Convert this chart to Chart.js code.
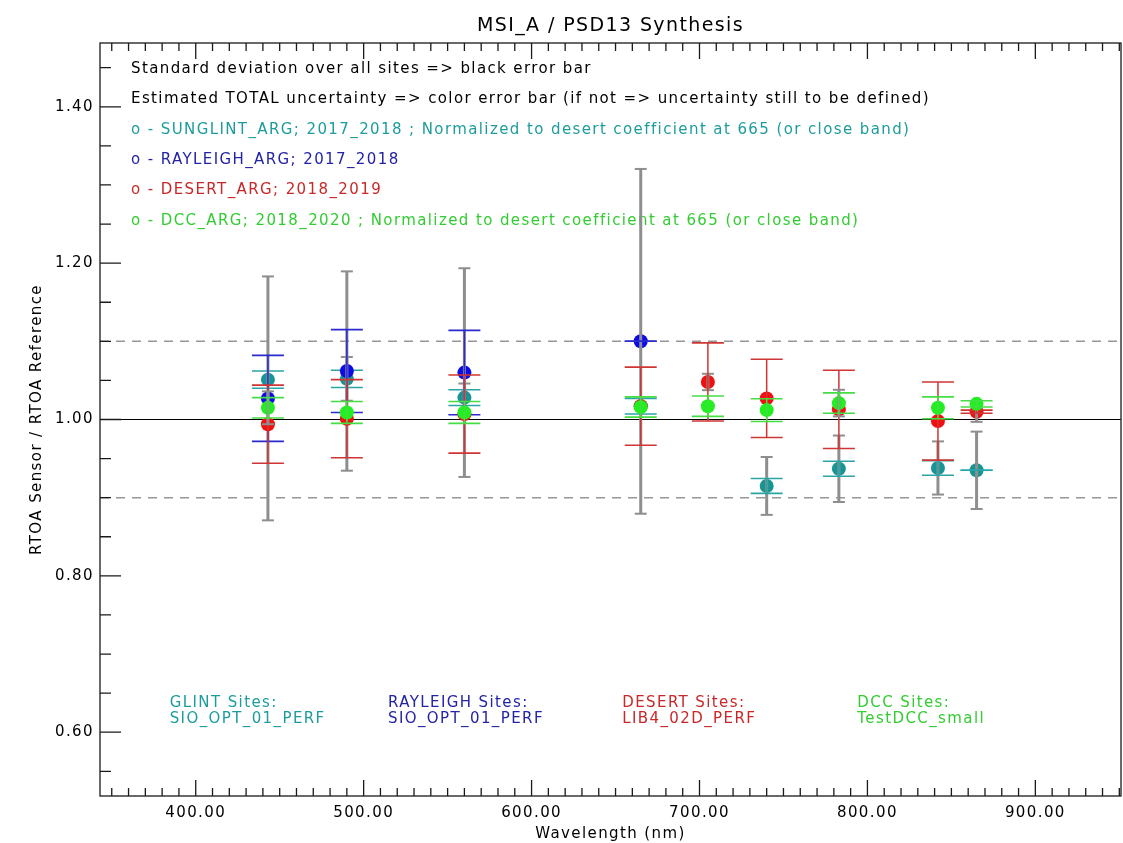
<!DOCTYPE html>
<html><head><meta charset="utf-8">
<script src="https://cdn.jsdelivr.net/npm/chart.js@4.4.1/dist/chart.umd.min.js"></script>
<style>html,body{margin:0;padding:0;background:#fff;}canvas{display:block;}</style>
</head><body>
<canvas id="c" width="1123" height="843"></canvas>
<script>
// ---------- data ----------
const wavelengths = [443, 490, 560, 665, 705, 740, 783, 842, 865];

const glintValues      = [1.051, 1.052, 1.028, 1.017, null, 0.915, 0.937, 0.938, 0.935];
const glintUncertainty = [0.011, 0.011, 0.010, 0.010, null, 0.0095, 0.0095, 0.0094, 0.0];
const glintStd         = [null, 0.028, 0.018, null, null, 0.037, 0.0425, 0.034, 0.0495];

const rayleighValues      = [1.027, 1.062, 1.060, 1.100, null, null, null, null, null];
const rayleighUncertainty = [0.055, 0.053, 0.054, 0.0, null, null, null, null, null];
const rayleighStd         = [0.156, 0.1275, 0.1335, 0.2205, null, null, null, null, null];

const desertValues      = [0.994, 1.001, 1.007, 1.017, 1.048, 1.027, 1.013, 0.998, 1.010];
const desertUncertainty = [0.050, 0.050, 0.050, 0.050, 0.050, 0.050, 0.050, 0.050, 0.002];
const desertStd         = [null, null, null, null, 0.0105, null, null, null, 0.013];

const dccValues      = [1.015, 1.009, 1.009, 1.016, 1.017, 1.012, 1.021, 1.015, 1.020];
const dccUncertainty = [0.013, 0.014, 0.014, 0.013, 0.013, 0.0145, 0.013, 0.014, 0.004];
const dccStd         = [0.021, null, null, null, null, null, 0.017, null, null];

const referenceLevel = [1.0];
const toleranceLevels = [1.1, 0.9];

const xTickValues = [400, 500, 600, 700, 800, 900];
const yTickValues = [0.6, 0.8, 1.0, 1.2, 1.4];

const titleText = 'MSI_A / PSD13 Synthesis';
const xTitle = 'Wavelength (nm)';
const yTitle = 'RTOA Sensor / RTOA Reference';
const legendLines = [
  'Standard deviation over all sites => black error bar',
  'Estimated TOTAL uncertainty => color error bar (if not => uncertainty still to be defined)',
  'o - SUNGLINT_ARG; 2017_2018 ; Normalized to desert coefficient at 665 (or close band)',
  'o - RAYLEIGH_ARG; 2017_2018',
  'o - DESERT_ARG; 2018_2019',
  'o - DCC_ARG; 2018_2020 ; Normalized to desert coefficient at 665 (or close band)'
];
const siteHeaders = ['GLINT Sites:', 'RAYLEIGH Sites:', 'DESERT Sites:', 'DCC Sites:'];
const siteNames = ['SIO_OPT_01_PERF', 'SIO_OPT_01_PERF', 'LIB4_02D_PERF', 'TestDCC_small'];

// ---------- layout / style ----------
const FONT = "'DejaVu Sans', 'Liberation Sans', sans-serif";
const X_MIN = 343, X_MAX = 951, Y_MIN = 0.5184, Y_MAX = 1.4816;
const X_MINOR = 10, Y_MINOR = 0.05;
const legendColors = ['#000000', '#000000', '#1e9c9c', '#2323a6', '#c82828', '#33cc33'];
const siteColors = ['#1e9c9c', '#2323a6', '#c82828', '#33cc33'];
const siteLabelX = [384.5, 514.5, 654, 794];   // placed in data units (nm)
const siteLabelY = [0.6366, 0.6165];
const GRAY = '#8e8e8e';

const methods = [
  { v: glintValues, u: glintUncertainty, s: glintStd, dot: '#179595', bar: '#2aa5a5' },
  { v: rayleighValues, u: rayleighUncertainty, s: rayleighStd, dot: '#0b0be8', bar: '#2a2ad0' },
  { v: desertValues, u: desertUncertainty, s: desertStd, dot: '#f01010', bar: '#d03535' },
  { v: dccValues, u: dccUncertainty, s: dccStd, dot: '#22ee22', bar: '#44dd44' }
];

function pointData(vals) {
  const out = [];
  wavelengths.forEach((w, i) => { if (vals[i] != null) out.push({ x: w, y: vals[i] }); });
  return out;
}
function errorData(vals, half) {
  const out = [];
  wavelengths.forEach((w, i) => {
    if (vals[i] == null || half[i] == null) return;
    out.push({ x: w, y: vals[i] - half[i] }, { x: w, y: vals[i] + half[i] }, { x: w, y: null });
  });
  return out;
}
function errorSet(data, color, width, cap, capWidth) {
  return {
    data, showLine: true, spanGaps: false, borderColor: color, borderWidth: width,
    pointStyle: 'line', pointRadius: cap, pointBorderWidth: capWidth,
    pointBorderColor: color, pointBackgroundColor: color, fill: false, tension: 0
  };
}
function hline(level, color, width, dash) {
  return {
    data: [{ x: X_MIN, y: level }, { x: X_MAX, y: level }], showLine: true,
    borderColor: color, borderWidth: width, borderDash: dash, pointRadius: 0, fill: false
  };
}

const datasets = [];
toleranceLevels.forEach(l => datasets.push(hline(l, '#969696', 1.5, [9, 7])));
referenceLevel.forEach(l => datasets.push(hline(l, '#000000', 1.2, [])));
methods.forEach(m => {
  datasets.push({ data: pointData(m.v), showLine: false, pointStyle: 'circle', pointRadius: 7,
    pointBorderWidth: 0, pointBackgroundColor: m.dot, pointBorderColor: m.dot });
  datasets.push(errorSet(errorData(m.v, m.s), GRAY, 3, 6, 2));
  datasets.push(errorSet(errorData(m.v, m.u), m.bar, 1.5, 16, 1.6));
});
datasets.forEach((d, i) => { d.order = datasets.length - i; });

const decor = {
  id: 'decor',
  beforeDraw(chart) { chart.ctx.letterSpacing = '1.4px'; },
  beforeDatasetsDraw(chart) {
    const { ctx, chartArea: a, scales: { x, y } } = chart;
    ctx.save();
    ctx.letterSpacing = '1.4px';
    ctx.font = '15px ' + FONT;
    ctx.textAlign = 'left';
    ctx.textBaseline = 'middle';
    legendLines.forEach((t, i) => {
      ctx.fillStyle = legendColors[i];
      ctx.fillText(t, a.left + 31, a.top + 26 + i * 30.4);
    });
    siteHeaders.forEach((t, i) => {
      ctx.fillStyle = siteColors[i];
      ctx.fillText(t, x.getPixelForValue(siteLabelX[i]), y.getPixelForValue(siteLabelY[0]));
      ctx.fillText(siteNames[i], x.getPixelForValue(siteLabelX[i]), y.getPixelForValue(siteLabelY[1]));
    });
    ctx.restore();
  },
  afterDatasetsDraw(chart) {
    const { ctx, chartArea: a, scales: { x, y } } = chart;
    ctx.save();
    ctx.strokeStyle = '#1a1a1a';
    ctx.lineWidth = 1.3;
    ctx.strokeRect(a.left, a.top, a.right - a.left, a.bottom - a.top);
    ctx.beginPath();
    for (let k = Math.ceil(X_MIN / X_MINOR); k * X_MINOR <= X_MAX; k++) {
      const px = x.getPixelForValue(k * X_MINOR);
      const len = (k % 10 === 0) ? 16 : 8;
      ctx.moveTo(px, a.bottom); ctx.lineTo(px, a.bottom - len);
      ctx.moveTo(px, a.top); ctx.lineTo(px, a.top + len);
    }
    for (let k = Math.ceil(Y_MIN / Y_MINOR - 1e-6); k * Y_MINOR <= Y_MAX + 1e-9; k++) {
      const py = y.getPixelForValue(k * Y_MINOR);
      const len = (k % 4 === 0) ? 21 : 11;
      ctx.moveTo(a.left, py); ctx.lineTo(a.left + len, py);
    }
    ctx.stroke();
    ctx.restore();
  }
};

new Chart(document.getElementById('c'), {
  type: 'scatter',
  data: { datasets },
  options: {
    responsive: false, animation: false, events: [], devicePixelRatio: 1,
    layout: { autoPadding: false, padding: { left: 0, right: 2, top: 0, bottom: 0 } },
    plugins: {
      legend: { display: false }, tooltip: { enabled: false },
      title: { display: true, fullSize: false, text: titleText, color: '#000',
        font: { family: FONT, size: 19, weight: 'normal', lineHeight: 1.2 },
        padding: { top: 15, bottom: 5.2 } }
    },
    scales: {
      x: {
        type: 'linear', min: X_MIN, max: X_MAX,
        grid: { display: false, drawTicks: false }, border: { display: false },
        ticks: { padding: 8, color: '#000', font: { family: FONT, size: 15 }, maxRotation: 0, autoSkip: false,
          callback: v => Number(v).toFixed(2) },
        afterBuildTicks: s => { s.ticks = xTickValues.map(v => ({ value: v })); },
        afterFit: s => { s.height = 47; },
        title: { display: true, text: xTitle, color: '#000',
          font: { family: FONT, size: 15, lineHeight: 1.0 }, padding: { top: 0, bottom: 1 } }
      },
      y: {
        type: 'linear', min: Y_MIN, max: Y_MAX,
        grid: { display: false, drawTicks: false }, border: { display: false },
        ticks: { padding: 6, color: '#000', font: { family: FONT, size: 15 }, autoSkip: false,
          callback: v => Number(v).toFixed(2) },
        afterBuildTicks: s => { s.ticks = yTickValues.map(v => ({ value: v })); },
        afterFit: s => { s.width = 100; },
        title: { display: true, text: yTitle, color: '#000',
          font: { family: FONT, size: 15, lineHeight: 1.2 }, padding: { top: 28, bottom: 0 } }
      }
    }
  },
  plugins: [decor]
});
</script>
</body></html>
